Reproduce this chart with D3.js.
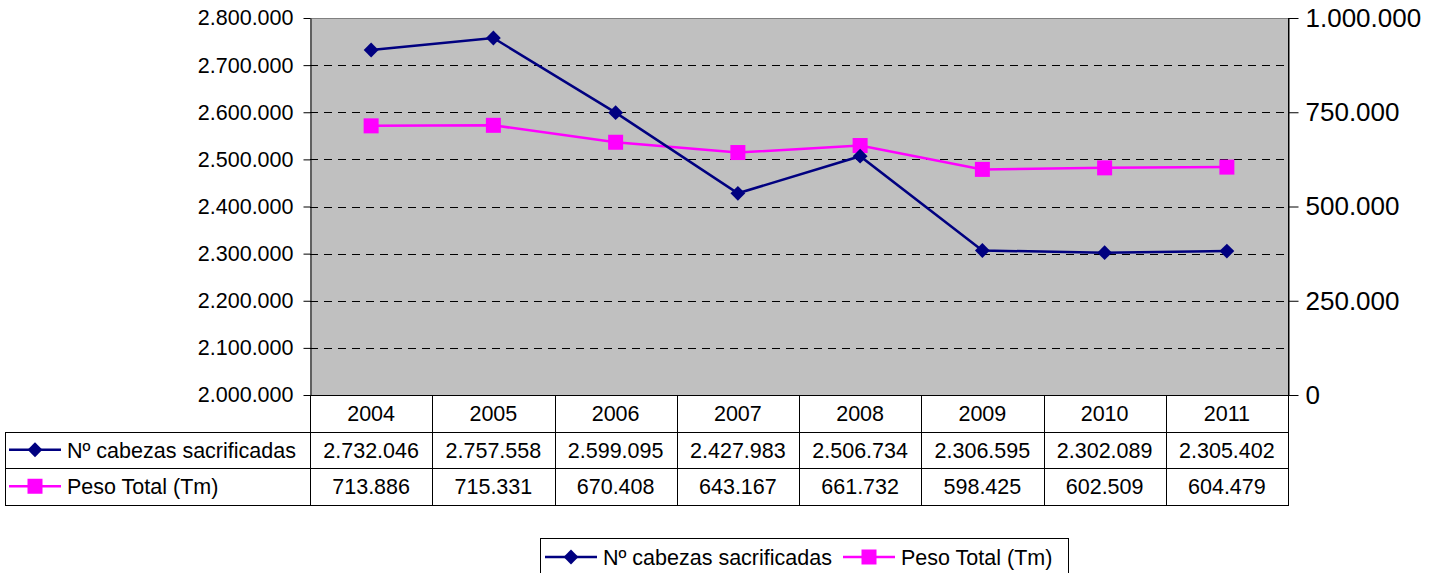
<!DOCTYPE html>
<html>
<head>
<meta charset="utf-8">
<script src="https://cdn.jsdelivr.net/npm/d3@7/dist/d3.min.js"></script>
<style>
	body { margin: 0; background: #fff; }
	svg { display: block; font-family: "Liberation Sans", Arial, sans-serif; }
</style>
</head>
<body>
<div id="chart"></div>
<script>
// data
var years = ["2004", "2005", "2006", "2007", "2008", "2009", "2010", "2011"];
var cabezas = [2732046, 2757558, 2599095, 2427983, 2506734, 2306595, 2302089, 2305402];
var peso = [713886, 715331, 670408, 643167, 661732, 598425, 602509, 604479];
var leftTicks = [2000000, 2100000, 2200000, 2300000, 2400000, 2500000, 2600000, 2700000, 2800000];
var rightTicks = [0, 250000, 500000, 750000, 1000000];
var seriesNames = ["Nº cabezas sacrificadas", "Peso Total (Tm)"];

var width = 1430, height = 573;
var plot = { left: 310, right: 1288, top: 18, bottom: 395 };
var rowH = 36.5;
var fs = "21.5px";
var navy = "#000080", pink = "#FF00FF";

// es-ES style thousand separators
var fmt = d3.formatLocale({ decimal: ",", thousands: ".", grouping: [3], currency: ["", "€"] }).format(",d");

var svg = d3.select("#chart").append("svg")
	.attr("width", width)
	.attr("height", height);

var x = d3.scaleBand().domain(years).range([plot.left, plot.right]);
var yL = d3.scaleLinear().domain([2000000, 2800000]).range([plot.bottom, plot.top]);
var yR = d3.scaleLinear().domain([0, 1000000]).range([plot.bottom, plot.top]);

// plot background
svg.append("rect")
	.attr("x", plot.left).attr("y", plot.top)
	.attr("width", plot.right - plot.left).attr("height", plot.bottom - plot.top)
	.attr("fill", "#C0C0C0");

// gridlines
svg.append("g")
	.selectAll("line")
	.data(leftTicks.slice(1, -1))
	.enter().append("line")
	.attr("x1", plot.left).attr("x2", plot.right)
	.attr("y1", d => Math.round(yL(d)) + 0.5).attr("y2", d => Math.round(yL(d)) + 0.5)
	.attr("stroke", "#000")
	.attr("stroke-dasharray", "8,6");

// top border
svg.append("line")
	.attr("x1", plot.left).attr("x2", plot.right)
	.attr("y1", plot.top + 0.5).attr("y2", plot.top + 0.5)
	.attr("stroke", "#808080");

// left axis
var axisL = svg.append("g")
	.attr("transform", "translate(" + (plot.left + 0.5) + ",0)")
	.call(d3.axisLeft(yL).tickValues(leftTicks).tickFormat(fmt).tickSize(7).tickSizeOuter(0).tickPadding(10));
axisL.selectAll("text").attr("font-size", fs).attr("fill", "#000");
axisL.selectAll("line, path").attr("stroke", "#000");
axisL.attr("font-family", null);

// right axis
var axisR = svg.append("g")
	.attr("transform", "translate(" + (plot.right + 0.5) + ",0)")
	.call(d3.axisRight(yR).tickValues(rightTicks).tickFormat(fmt).tickSize(10).tickSizeOuter(0).tickPadding(7));
axisR.selectAll("text").attr("font-size", "26px").attr("fill", "#000");
axisR.selectAll("line, path").attr("stroke", "#000");
axisR.attr("font-family", null);

// lines
var cx = d => x(d) + x.bandwidth() / 2;
var line1 = d3.line().x((d, i) => cx(years[i])).y(d => yL(d));
var line2 = d3.line().x((d, i) => cx(years[i])).y(d => yR(d));

svg.append("path").datum(peso)
	.attr("d", line2).attr("fill", "none").attr("stroke", pink).attr("stroke-width", 2.5);
svg.append("path").datum(cabezas)
	.attr("d", line1).attr("fill", "none").attr("stroke", navy).attr("stroke-width", 2.5);

var diamond = d3.symbol().type(d3.symbolSquare).size(110);
function drawDiamond(g, px, py) {
	g.append("path").attr("d", diamond())
		.attr("transform", "translate(" + px + "," + py + ") rotate(45)")
		.attr("fill", navy);
}
function drawSquare(g, px, py) {
	g.append("rect").attr("x", px - 7.5).attr("y", py - 7.5)
		.attr("width", 15).attr("height", 15).attr("fill", pink);
}

var marks = svg.append("g");
peso.forEach((d, i) => drawSquare(marks, cx(years[i]), yR(d)));
cabezas.forEach((d, i) => drawDiamond(marks, cx(years[i]), yL(d)));

// data table
var table = svg.append("g").attr("stroke", "#000").attr("stroke-width", 1);
var tTop = plot.bottom, tRow1 = tTop + rowH, tRow2 = tRow1 + rowH, tBot = tRow2 + rowH;
// horizontal lines
table.append("line").attr("x1", plot.left).attr("x2", plot.right).attr("y1", tTop + 0.5).attr("y2", tTop + 0.5);
[tRow1, tRow2, tBot].forEach(function (yy) {
	table.append("line").attr("x1", 5).attr("x2", plot.right).attr("y1", Math.round(yy) + 0.5).attr("y2", Math.round(yy) + 0.5);
});
// vertical lines
table.append("line").attr("x1", 5.5).attr("x2", 5.5).attr("y1", Math.round(tRow1)).attr("y2", Math.round(tBot) + 1);
years.forEach(function (yr) {
	var xx = Math.round(x(yr)) + 0.5;
	table.append("line").attr("x1", xx).attr("x2", xx).attr("y1", tTop).attr("y2", Math.round(tBot) + 1);
});
table.append("line").attr("x1", plot.right + 0.5).attr("x2", plot.right + 0.5).attr("y1", plot.top).attr("y2", Math.round(tBot) + 1);

var ttext = svg.append("g").attr("font-size", fs).attr("fill", "#000").attr("text-anchor", "middle");
ttext.selectAll("text.yr").data(years).enter().append("text")
	.attr("x", d => cx(d)).attr("y", tTop + rowH / 2 + 8).text(d => d);
ttext.selectAll("text.c").data(cabezas).enter().append("text")
	.attr("x", (d, i) => cx(years[i])).attr("y", tRow1 + rowH / 2 + 8).text(d => fmt(d));
ttext.selectAll("text.p").data(peso).enter().append("text")
	.attr("x", (d, i) => cx(years[i])).attr("y", tRow2 + rowH / 2 + 8).text(d => fmt(d));

// row labels with legend keys
function legendKey(g, x0, yy, color, isDiamond) {
	g.append("line").attr("x1", x0).attr("x2", x0 + 52).attr("y1", yy).attr("y2", yy)
		.attr("stroke", color).attr("stroke-width", 2.5);
	if (isDiamond) drawDiamond(g, x0 + 26, yy);
	else drawSquare(g, x0 + 26, yy);
}
var rowLab = svg.append("g");
legendKey(rowLab, 9, tRow1 + rowH / 2, navy, true);
legendKey(rowLab, 9, tRow2 + rowH / 2, pink, false);
rowLab.append("text").attr("x", 67).attr("y", tRow1 + rowH / 2 + 8).attr("font-size", fs).text(seriesNames[0]);
rowLab.append("text").attr("x", 67).attr("y", tRow2 + rowH / 2 + 8).attr("font-size", fs).text(seriesNames[1]);

// legend
var leg = svg.append("g");
leg.append("rect").attr("x", 540.5).attr("y", 538.5).attr("width", 528).attr("height", 40)
	.attr("fill", "#fff").attr("stroke", "#000");
legendKey(leg, 545, 557, navy, true);
leg.append("text").attr("x", 603).attr("y", 565).attr("font-size", fs).text(seriesNames[0]);
legendKey(leg, 843, 557, pink, false);
leg.append("text").attr("x", 901).attr("y", 565).attr("font-size", fs).text(seriesNames[1]);
</script>
</body>
</html>
